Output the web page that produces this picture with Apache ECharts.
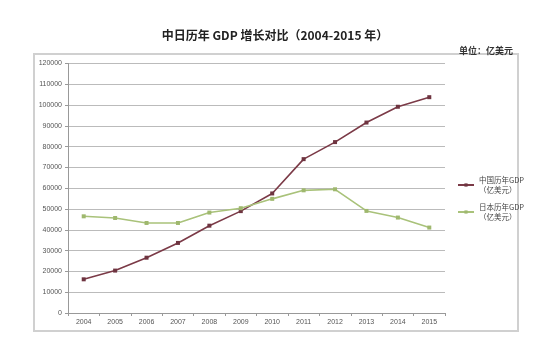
<!DOCTYPE html>
<html><head><meta charset="utf-8">
<script src="https://cdn.jsdelivr.net/npm/echarts@6/dist/echarts.min.js"></script>
<style>html,body{margin:0;padding:0;background:#fff;}#c{width:550px;height:360px;}</style>
</head><body><div id="c"></div>
<script>
const years = ['2004','2005','2006','2007','2008','2009','2010','2011','2012','2013','2014','2015'];
const chinaGDP = [16200,20400,26600,33700,42000,49000,57500,74000,82200,91600,99200,103800];
const japanGDP = [46500,45700,43300,43300,48300,50400,54900,59000,59500,49100,45900,41100];

const chart = echarts.init(document.getElementById('c'));
chart.setOption({
  animation:false,
  backgroundColor:'#fff',
  title:[{
    text:'中日历年 GDP 增长对比（2004-2015 年）',
    left:'center', top:24,
    textStyle:{fontSize:12,fontWeight:'bold',color:'#222',fontFamily:'Noto Sans CJK SC'}
  },{
    text:'单位：亿美元',
    right:32, top:41,
    textStyle:{fontSize:9,fontWeight:'bold',color:'#333',fontFamily:'Noto Sans CJK SC'}
  }],
  graphic:[{
    type:'rect', shape:{x:34,y:54,width:484,height:277},
    style:{fill:'none',stroke:'#d0d0d0',lineWidth:2}, silent:true
  }],
  legend:{
    orient:'vertical', left:452, top:170, itemGap:7, itemWidth:16, itemHeight:4,
    textStyle:{fontSize:7.5,color:'#444',lineHeight:10,fontFamily:'Noto Sans CJK SC'},
    data:[{name:'中国历年GDP\n（亿美元）'},{name:'日本历年GDP\n（亿美元）'}]
  },
  grid:{left:68,right:105,top:63.5,bottom:47,containLabel:false},
  xAxis:{
    type:'category', data:years, boundaryGap:true,
    axisLine:{lineStyle:{color:'#999'}},
    axisTick:{show:true,lineStyle:{color:'#999'},length:3},
    axisLabel:{fontSize:7,color:'#555',margin:6}
  },
  yAxis:{
    type:'value', min:0, max:120000, interval:10000,
    axisLine:{show:true,lineStyle:{color:'#999'}},
    axisTick:{show:true,lineStyle:{color:'#999'},length:3},
    axisLabel:{fontSize:7,color:'#555',margin:6,formatter:function(v){return String(v);}},
    splitLine:{lineStyle:{color:'#bbb'}}
  },
  series:[{
    name:'中国历年GDP\n（亿美元）', type:'line', data:chinaGDP,
    symbol:'rect', symbolSize:4,
    lineStyle:{color:'#7b3a47',width:1.6},
    itemStyle:{color:'#6e3440'}
  },{
    name:'日本历年GDP\n（亿美元）', type:'line', data:japanGDP,
    symbol:'rect', symbolSize:4,
    lineStyle:{color:'#a9c27a',width:1.6},
    itemStyle:{color:'#9fb86e'}
  }]
});
</script></body></html>
